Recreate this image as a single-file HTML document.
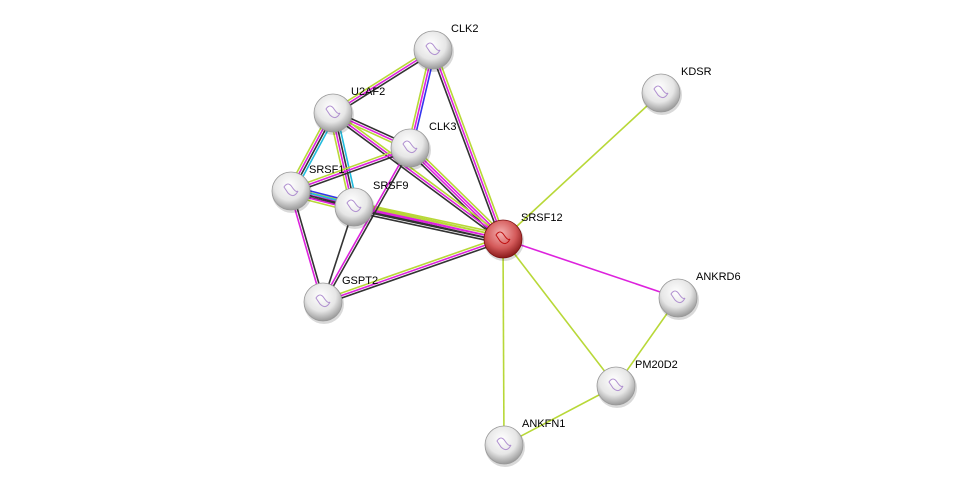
<!DOCTYPE html>
<html><head><meta charset="utf-8"><style>
html,body{margin:0;padding:0;background:#fff;}
svg{display:block;font-family:"Liberation Sans",sans-serif;font-size:11px;}
</style></head><body>
<svg id="s" width="976" height="490" viewBox="0 0 976 490">
<defs>
<radialGradient id="g" cx="45%" cy="35%" r="65%">
<stop offset="0" stop-color="#ffffff"/><stop offset="0.6" stop-color="#e6e6e6"/><stop offset="1" stop-color="#9a9a9a"/></radialGradient>
<radialGradient id="r" cx="45%" cy="35%" r="65%">
<stop offset="0" stop-color="#f4b0b0"/><stop offset="0.6" stop-color="#d45a5a"/><stop offset="1" stop-color="#8a1a1a"/></radialGradient>
</defs>
<g id="edges"></g>
<g id="nodes"></g>
<g fill="#000">
<text x="451" y="32">CLK2</text>
<text x="681" y="75">KDSR</text>
<text x="351" y="95">U2AF2</text>
<text x="429" y="130">CLK3</text>
<text x="309" y="173">SRSF1</text>
<text x="373" y="189">SRSF9</text>
<text x="521" y="221">SRSF12</text>
<text x="342" y="284">GSPT2</text>
<text x="696" y="280">ANKRD6</text>
<text x="635" y="368">PM20D2</text>
<text x="522" y="427">ANKFN1</text>
</g>
</svg>
<script>
var N={CLK2:[433,50],KDSR:[661,93],U2AF2:[333,113],CLK3:[410,148],SRSF1:[291,191],SRSF9:[354,207],SRSF12:[503,239],GSPT2:[323,302],ANKRD6:[678,298],PM20D2:[616,386],ANKFN1:[504,445]};
var K="#333",M="#dd22dd",Y="#b8d838",B="#3333ee",C="#22bbdd";
var E=[["SRSF12","KDSR",[Y]],["SRSF12","ANKRD6",[M]],["SRSF12","PM20D2",[Y]],["SRSF12","ANKFN1",[Y]],["ANKRD6","PM20D2",[Y]],["PM20D2","ANKFN1",[Y]],
["SRSF12","CLK2",[K,M,Y]],["SRSF12","CLK3",[K,M,M,Y]],["SRSF12","U2AF2",[K,M,Y]],["SRSF12","SRSF1",[K,M,Y]],["SRSF12","SRSF9",[K,K,M,Y,Y]],["SRSF12","GSPT2",[K,M,Y]],
["CLK2","U2AF2",[K,M,Y]],["CLK2","CLK3",[B,M,Y]],["U2AF2","CLK3",[K,M,Y]],["U2AF2","SRSF1",[C,K,M,Y]],["U2AF2","SRSF9",[C,K,M,Y]],
["CLK3","SRSF1",[K,M,Y]],["CLK3","GSPT2",[K,M]],["SRSF1","SRSF9",[B,C,K,M,Y]],["SRSF1","GSPT2",[K,M]],["SRSF9","GSPT2",[K]]];
var ns="http://www.w3.org/2000/svg",eg=document.getElementById("edges"),ng=document.getElementById("nodes");
E.forEach(function(e){var a=N[e[0]],b=N[e[1]],dx=b[0]-a[0],dy=b[1]-a[1],L=Math.hypot(dx,dy),px=-dy/L,py=dx/L,n=e[2].length;
e[2].forEach(function(c,i){var o=(i-(n-1)/2)*2.4;var l=document.createElementNS(ns,"line");
l.setAttribute("x1",a[0]+px*o);l.setAttribute("y1",a[1]+py*o);l.setAttribute("x2",b[0]+px*o);l.setAttribute("y2",b[1]+py*o);
l.setAttribute("stroke",c);l.setAttribute("stroke-width","1.6");eg.appendChild(l);});});
for(var k in N){var p=N[k];var sh=document.createElementNS(ns,"circle");sh.setAttribute("cx",p[0]+1);sh.setAttribute("cy",p[1]+2);sh.setAttribute("r",20);sh.setAttribute("fill","rgba(0,0,0,0.15)");ng.appendChild(sh);
var c=document.createElementNS(ns,"circle");c.setAttribute("cx",p[0]);c.setAttribute("cy",p[1]);c.setAttribute("r",19);
c.setAttribute("fill",k=="SRSF12"?"url(#r)":"url(#g)");c.setAttribute("stroke",k=="SRSF12"?"#7a1010":"#999");c.setAttribute("stroke-width","0.8");ng.appendChild(c);
var d=document.createElementNS(ns,"path");d.setAttribute("d","M"+(p[0]-7)+" "+(p[1]-4)+"q4 -6 8 0t6 4q-4 8 -10 2z");d.setAttribute("fill","none");
d.setAttribute("stroke",k=="SRSF12"?"#c01010":"#b090d0");d.setAttribute("stroke-width","1");ng.appendChild(d);}
</script>
</body></html>
